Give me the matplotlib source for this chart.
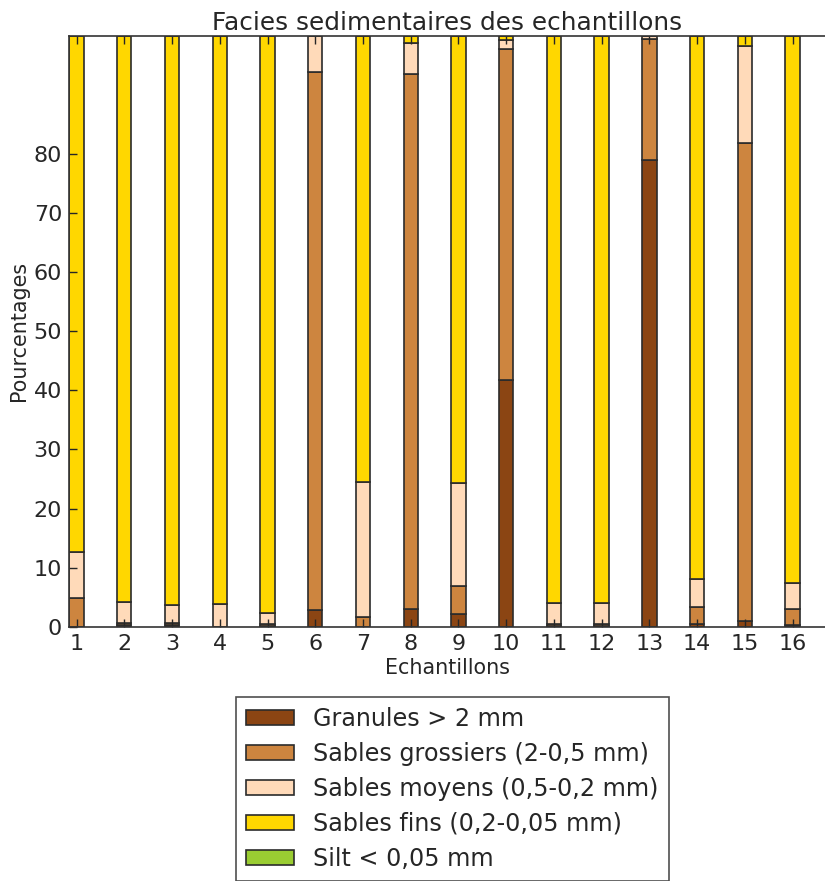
import numpy as np
import matplotlib
matplotlib.use('Agg')
import matplotlib.pyplot as plt

# Echantillons
samples = np.arange(1, 17)

# Pourcentages par classe granulometrique
granules = [0.0, 0.3, 0.3, 0.0, 0.2, 2.9, 0.0, 3.0, 2.1, 41.8, 0.2, 0.2, 79.0, 0.4, 1.0, 0.3]
grossiers = [4.9, 0.4, 0.4, 0.0, 0.2, 90.9, 1.7, 90.6, 4.8, 56.0, 0.2, 0.2, 20.5, 2.9, 80.8, 2.7]
moyens = [7.8, 3.5, 2.9, 3.8, 1.9, 6.2, 22.8, 5.2, 17.4, 1.4, 3.6, 3.6, 0.5, 4.8, 16.4, 4.4]
fins = [87.3, 95.8, 96.4, 96.2, 97.7, 0.0, 75.5, 1.2, 75.7, 0.8, 96.0, 96.0, 0.0, 91.9, 1.8, 92.6]
silt = [0.0] * 16

labels = ['Granules > 2 mm', 'Sables grossiers (2-0,5 mm)', 'Sables moyens (0,5-0,2 mm)',
          'Sables fins (0,2-0,05 mm)', 'Silt < 0,05 mm']
colors = ['saddlebrown', 'peru', 'peachpuff', 'gold', 'yellowgreen']

txt = '#262626'
plt.rcParams['font.family'] = 'DejaVu Sans'
plt.rcParams['text.color'] = txt
plt.rcParams['axes.labelcolor'] = txt
plt.rcParams['xtick.color'] = txt
plt.rcParams['ytick.color'] = txt

fig = plt.figure(figsize=(8.25, 8.81), dpi=100)
ax = fig.add_axes([0.0836, 0.2886, 0.9176, 0.6708])

bottom = np.zeros(16)
handles = []
for vals, lab, col in zip([granules, grossiers, moyens, fins, silt], labels, colors):
    b = ax.bar(samples, vals, width=0.3, bottom=bottom, color=col, edgecolor='#2b2b2b',
               linewidth=1.2, label=lab)
    handles.append(b)
    bottom += np.array(vals)

ax.set_xlim(0.84, 16.7)
ax.set_ylim(0, 100)
ax.set_xticks(samples)
ax.set_yticks(range(0, 90, 10))
ax.tick_params(direction='in', length=6, width=1, labelsize=16, top=True, right=False, pad=5)
for s in ['left', 'bottom', 'top']:
    ax.spines[s].set_color('#333333')
    ax.spines[s].set_linewidth(1.2)
ax.spines['right'].set_visible(False)

ax.set_title('Facies sedimentaires des echantillons', fontsize=17.8, pad=4)
ax.set_xlabel('Echantillons', fontsize=14.9, labelpad=3)
ax.set_ylabel('Pourcentages', fontsize=14.9, labelpad=3)

leg = fig.legend(handles=handles, loc='upper center', bbox_to_anchor=(452.5 / 825, 1 - 697 / 881),
                 fontsize=17.2, frameon=True, fancybox=False, borderaxespad=0,
                 handlelength=2.0, handleheight=0.63, labelspacing=0.46, borderpad=0.42,
                 handletextpad=0.8)
leg.get_frame().set_edgecolor('#222222')
leg.get_frame().set_linewidth(1.2)

plt.savefig('out.png', dpi=100)
